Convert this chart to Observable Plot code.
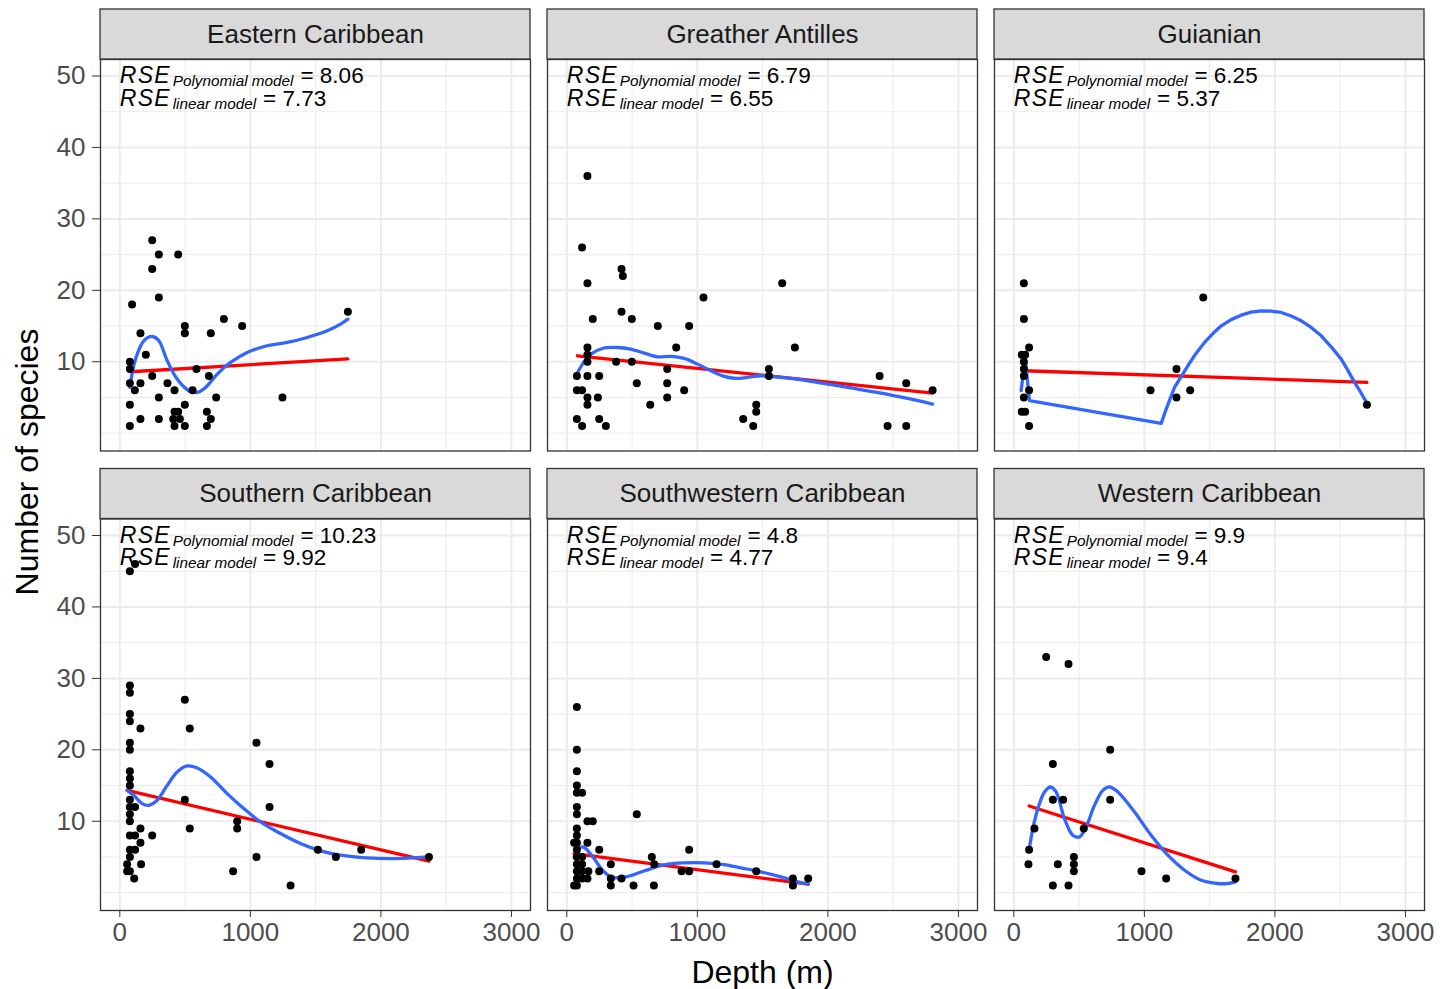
<!DOCTYPE html>
<html><head><meta charset="utf-8">
<script src="https://cdn.jsdelivr.net/npm/d3@7"></script>
<script src="https://cdn.jsdelivr.net/npm/@observablehq/plot@0.6"></script>
<style>body{margin:0;background:#fff} svg{display:block}</style>
</head><body><div id="chart"></div>
<script>
// ---------- data ----------
const regions = ["Eastern Caribbean", "Greather Antilles", "Guianian", "Southern Caribbean", "Southwestern Caribbean", "Western Caribbean"];

const easternDepth   = [77,77,77,77,77,94,115,158,158,158,199,248,248,248,299,299,299,299,365,409,419,419,419,447,447,460,498,498,498,498,557,587,667,667,682,697,697,738,797,937,1246,1747];
const easternSpecies = [10,9,7,4,1,18,6,14,7,2,11,27,23,8,25,19,5,2,7,2,6,3,1,25,3,2,15,14,4,1,6,9,3,1,8,14,2,5,16,15,5,17];

const antillesDepth   = [77,77,77,117,117,117,158,158,158,158,158,158,158,158,199,238,248,248,299,378,419,419,429,498,498,536,639,697,769,769,769,838,899,937,1047,1351,1428,1451,1451,1548,1548,1650,1747,2396,2457,2600,2600,2802];
const antillesSpecies = [8,6,2,26,6,1,36,21,12,11,10,8,5,4,16,5,8,2,1,10,23,17,22,16,10,7,4,15,9,7,5,12,6,15,19,2,1,4,3,9,8,21,12,8,1,7,1,6];

const guianianDepth   = [61,87,77,77,117,77,77,77,117,77,61,87,117,1047,1246,1246,1351,1451,2705];
const guianianSpecies = [11,11,21,16,12,10,9,8,6,5,3,3,1,6,9,5,6,19,4];

const southernDepth   = [77,117,77,77,498,77,77,158,536,77,1047,77,1147,77,77,77,77,498,77,117,1147,77,77,899,158,536,899,77,117,248,158,77,117,1517,1849,77,1047,1655,2368,56,163,56,77,868,110,1308];
const southernSpecies = [45,46,29,28,27,25,24,23,23,21,21,20,18,17,16,15,13,13,12,12,12,11,10,10,9,9,9,8,8,8,7,6,6,6,6,5,5,5,5,4,4,3,3,3,2,1];

const southwesternDepth   = [77,77,77,77,77,117,77,77,536,158,199,77,77,56,77,158,248,937,77,651,77,117,337,669,1147,77,117,165,248,879,937,1451,77,117,77,117,158,337,419,1732,1849,56,77,337,511,667,1732];
const southwesternSpecies = [26,20,17,15,14,14,12,11,11,10,10,9,8,7,7,7,6,6,6,5,5,5,4,4,4,4,4,3,3,3,3,3,3,3,2,2,2,2,2,2,2,1,1,1,1,1,1];

const westernDepth   = [248,419,738,299,299,378,738,158,536,117,460,112,337,460,460,978,1167,1698,299,419];
const westernSpecies = [33,32,20,18,13,13,13,9,9,6,5,4,4,4,3,3,2,2,1,1];

// linear model fits (red), endpoints
const linDepth = [[82,1747],[82,2802],[77,2705],[56,2368],[56,1849],[117,1698]];
const linFit   = [[8.6,10.4],[10.84,5.62],[8.74,7.11],[14.33,4.41],[5.48,1.19],[12.14,2.92]];

// polynomial model fits (blue), in data order
const easternPolyDepth = [77,120,184,248,299,363,439,529,593,657,746,848,976,1129,1282,1435,1589,1691,1747];
const easternPolyFit   = [6.41,10.37,12.94,13.54,12.94,10.14,7.58,5.95,5.71,6.41,8.28,9.91,11.3,12.24,12.7,13.4,14.33,15.27,15.96];
const antillesPolyDepth = [77,120,184,273,388,490,593,695,797,899,1001,1103,1205,1295,1384,1486,1640,1895,2150,2406,2610,2802];
const antillesPolyFit   = [8.28,9.67,11.07,11.86,12.0,11.77,11.21,10.7,10.75,10.47,9.67,8.74,7.95,7.67,7.81,8.04,7.81,7.2,6.41,5.62,4.87,4.08];
const guianianPolyDepth = [56,87,120,1129,1167,1231,1333,1397,1461,1525,1589,1665,1742,1818,1895,1971,2048,2125,2202,2278,2355,2431,2508,2559,2610,2658,2705];
const guianianPolyFit   = [5.95,10.6,4.55,1.38,3.38,6.41,9.44,11.2,12.7,13.95,15.03,15.9,16.52,16.95,17.13,17.1,16.9,16.4,15.73,14.8,13.63,12.1,10.37,8.8,7.11,5.7,4.22];
const southernPolyDepth = [56,107,171,222,286,363,439,516,593,695,822,950,1078,1231,1384,1538,1691,1895,2099,2253,2368];
const southernPolyFit   = [14.33,13.63,12.47,12.24,12.94,15.03,16.9,17.74,17.46,16.2,13.87,11.77,9.91,8.28,6.88,5.85,5.25,4.87,4.78,4.87,5.01];
const southwesternPolyDepth = [56,94,120,158,209,273,337,414,516,644,771,899,1052,1205,1333,1486,1640,1768,1849];
const southwesternPolyFit   = [5.01,6.18,6.41,5.95,4.78,3.15,2.22,2.08,2.54,3.38,3.99,4.18,4.18,3.94,3.48,2.92,2.22,1.52,1.19];
const westernPolyDepth = [117,146,184,235,281,324,388,452,503,554,618,682,733,797,925,1052,1180,1308,1435,1563,1640,1698];
const westernPolyFit   = [6,8.97,11.77,14.1,14.8,14.1,10.37,8.04,7.81,9.21,12.24,14.33,14.8,14.1,11.3,8.04,5.25,3.15,1.75,1.29,1.29,1.52];

const rsePoly = ["8.06","6.79","6.25","10.23","4.8","9.9"];
const rseLin  = ["7.73","6.55","5.37","9.92","4.77","9.4"];
const rseSubs = ["Polynomial model", "linear model"];
const annotX = 0;
const annotY = [50, 46.9];

const xTicks = [0, 1000, 2000, 3000];
const xMinor = [500, 1500, 2500];
const yTicks = [10, 20, 30, 40, 50];
const yMinor = [0, 5, 15, 25, 35, 45];
const xDomain = [-148, 3146];
const yDomain = [-2.49, 52.31];

// ---------- tables ----------
const depthSets = [easternDepth, antillesDepth, guianianDepth, southernDepth, southwesternDepth, westernDepth];
const speciesSets = [easternSpecies, antillesSpecies, guianianSpecies, southernSpecies, southwesternSpecies, westernSpecies];
const polyDepthSets = [easternPolyDepth, antillesPolyDepth, guianianPolyDepth, southernPolyDepth, southwesternPolyDepth, westernPolyDepth];
const polyFitSets = [easternPolyFit, antillesPolyFit, guianianPolyFit, southernPolyFit, southwesternPolyFit, westernPolyFit];

const pos = i => ({col: i % 3, row: Math.floor(i / 3)});
const points = regions.flatMap((r, i) => depthSets[i].map((d, j) => ({...pos(i), depth: d, species: speciesSets[i][j]})));
const linRows = regions.flatMap((r, i) => linDepth[i].map((d, j) => ({...pos(i), depth: d, fit: linFit[i][j]})));
const polyRows = regions.flatMap((r, i) => polyDepthSets[i].map((d, j) => ({...pos(i), region: r, depth: d, fit: polyFitSets[i][j]})));
const smoothPoly = polyRows.filter(d => d.region !== "Guianian");
const guianianPoly = polyRows.filter(d => d.region === "Guianian");
const strips = regions.map((r, i) => ({...pos(i), name: r}));
const rseRows = regions.flatMap((r, i) => [
  {...pos(i), x: annotX, y: annotY[0], label: "RSE|" + rseSubs[0] + "|" + rsePoly[i]},
  {...pos(i), x: annotX, y: annotY[1], label: "RSE|" + rseSubs[1] + "|" + rseLin[i]}
]);

const dark = "#333333";
const gridCol = "#ebebeb";
const fmt = d => String(d);

const chart = Plot.plot({
  width: 1451, height: 989,
  marginTop: 59, marginLeft: 100, marginRight: 27, marginBottom: 79,
  style: {fontFamily: "'Liberation Sans', Arial, Helvetica, sans-serif", background: "#ffffff", overflow: "visible"},
  fx: {domain: [0, 1, 2], axis: null, paddingInner: 17 / 447, paddingOuter: 0, round: false},
  fy: {domain: [0, 1], axis: null, paddingInner: 68 / 459.5, paddingOuter: 0, round: false},
  x: {domain: xDomain},
  y: {domain: yDomain},
  marks: [
    Plot.gridX(xMinor, {stroke: gridCol, strokeOpacity: 1, strokeWidth: 1}),
    Plot.gridY(yMinor, {stroke: gridCol, strokeOpacity: 1, strokeWidth: 1}),
    Plot.gridX(xTicks, {stroke: gridCol, strokeOpacity: 1, strokeWidth: 2}),
    Plot.gridY(yTicks, {stroke: gridCol, strokeOpacity: 1, strokeWidth: 2}),
    Plot.line(linRows, {fx: "col", fy: "row", x: "depth", y: "fit", stroke: "#ff0000", strokeWidth: 3.3}),
    Plot.line(smoothPoly, {fx: "col", fy: "row", x: "depth", y: "fit", stroke: "#3366ff", strokeWidth: 3.3, curve: "catmull-rom"}),
    Plot.line(guianianPoly, {fx: "col", fy: "row", x: "depth", y: "fit", stroke: "#3366ff", strokeWidth: 3.3, curve: "linear"}),
    Plot.dot(points, {fx: "col", fy: "row", x: "depth", y: "species", r: 4, fill: "#000", stroke: "none"}),
    Plot.frame({stroke: dark, strokeWidth: 1.3}),
    Plot.rect(strips, {fx: "col", fy: "row", x1: d => xDomain[0], x2: d => xDomain[1], y1: d => yDomain[1], y2: d => yDomain[1], insetTop: -50, fill: "#d9d9d9", stroke: dark, strokeWidth: 1.3}),
    Plot.text(strips, {fx: "col", fy: "row", text: "name", frameAnchor: "top", lineAnchor: "middle", dy: -25, fontSize: 26, fill: "#1a1a1a"}),
    Plot.text(rseRows, {fx: "col", fy: "row", x: "x", y: "y", text: "label", textAnchor: "start", lineAnchor: "middle", fontSize: 23, fill: "#000"}),
    Plot.axisX({ticks: xTicks, tickSize: 7, tickPadding: 5, fontSize: 26, stroke: dark, fill: "#4d4d4d", label: null, tickFormat: fmt}),
    Plot.axisY({ticks: yTicks, tickSize: 8, tickPadding: 7, fontSize: 26, stroke: dark, fill: "#4d4d4d", label: null, tickFormat: fmt}),
    Plot.text(["Depth (m)"], {facet: "super", frameAnchor: "bottom", textAnchor: "middle", lineAnchor: "middle", dy: 62, fontSize: 32, fill: "#000"}),
    Plot.text(["Number of species"], {facet: "super", frameAnchor: "left", textAnchor: "middle", lineAnchor: "middle", dx: -73, dy: -23, rotate: -90, fontSize: 32, fill: "#000"})
  ]
});

// turn "RSE|sub|value" into plotmath-like tspans
const ns = "http://www.w3.org/2000/svg";
chart.querySelectorAll("text").forEach(t => {
  const parts = t.textContent.split("|");
  if (parts.length !== 3) return;
  while (t.firstChild) t.removeChild(t.firstChild);
  const a = document.createElementNS(ns, "tspan");
  a.setAttribute("font-style", "italic");
  a.setAttribute("letter-spacing", "1.2");
  a.textContent = parts[0];
  const b = document.createElementNS(ns, "tspan");
  b.setAttribute("font-style", "italic");
  b.setAttribute("font-size", "15.3");
  b.setAttribute("dy", "3");
  b.setAttribute("dx", "2");
  b.textContent = parts[1];
  const c = document.createElementNS(ns, "tspan");
  c.setAttribute("dy", "-3");
  c.setAttribute("dx", "7");
  c.setAttribute("font-size", "22.5");
  c.textContent = "= " + parts[2];
  t.append(a, b, c);
});

document.getElementById("chart").append(chart);
</script>
</body></html>
